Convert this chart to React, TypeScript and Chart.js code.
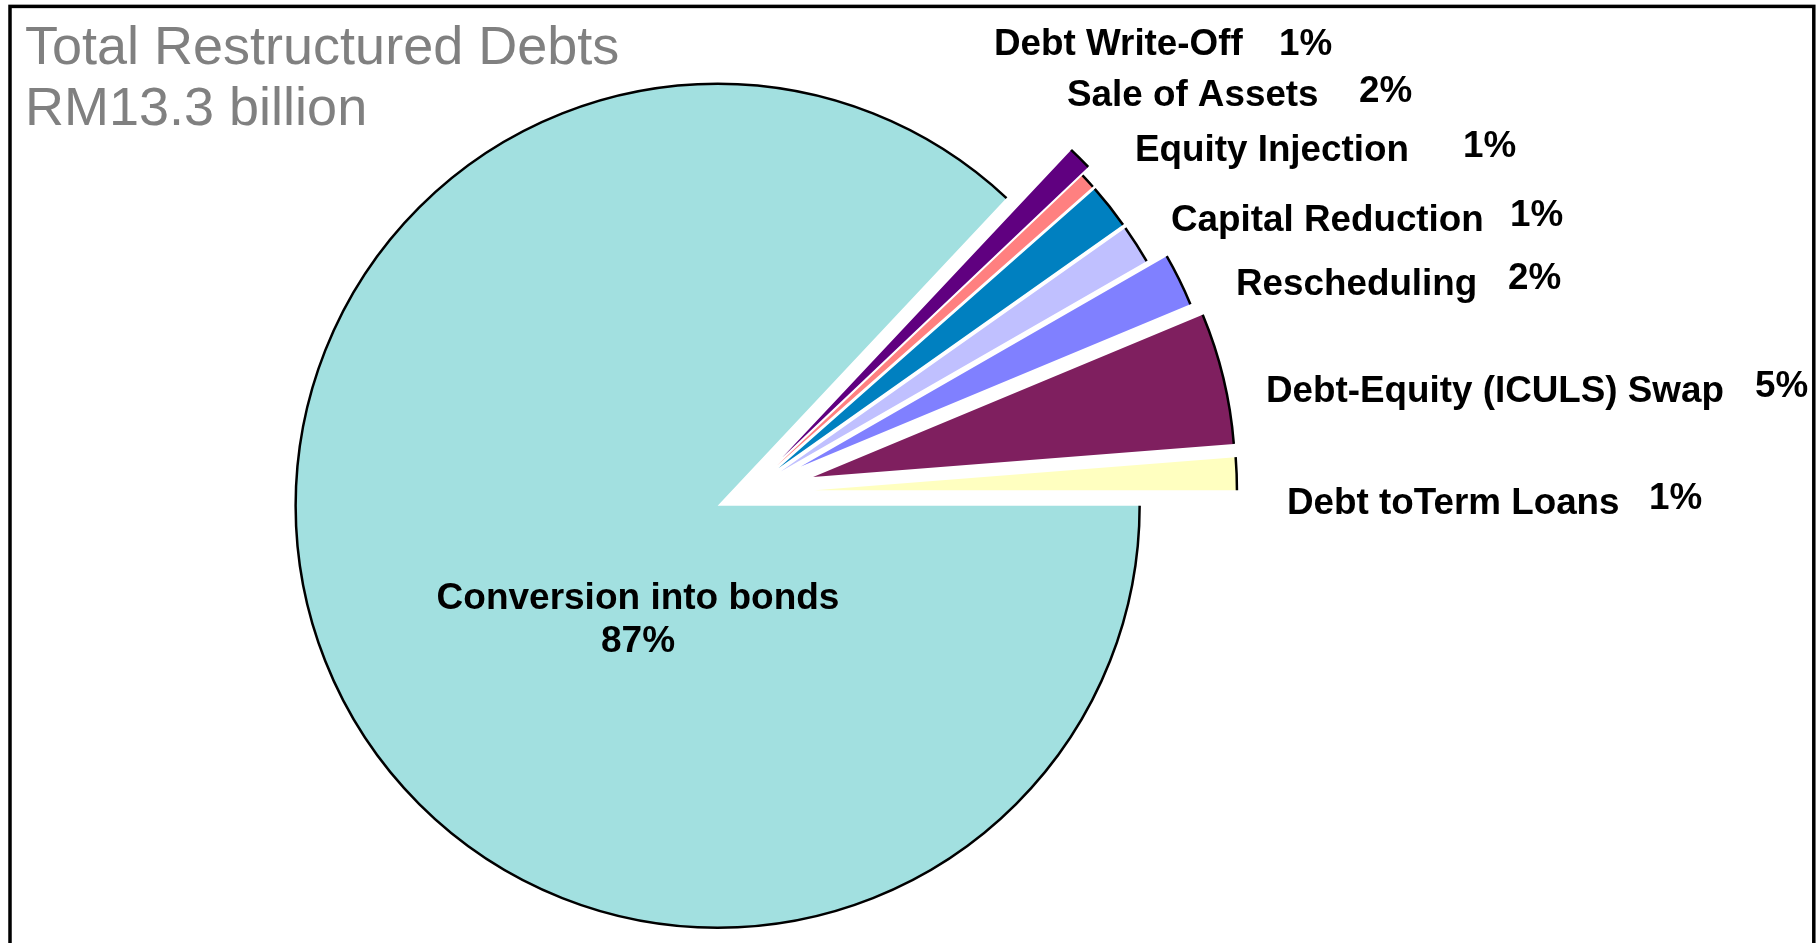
import React, { useEffect, useRef } from "react";
import { Chart, PieController, ArcElement } from "chart.js";

Chart.register(PieController, ArcElement);

// ---- data ----
const categories = [
  "Conversion into bonds",
  "Debt Write-Off",
  "Sale of Assets",
  "Equity Injection",
  "Capital Reduction",
  "Rescheduling",
  "Debt-Equity (ICULS) Swap",
  "Debt toTerm Loans",
];
// slice shares (%) as drawn in the picture
const shares = [87.0, 0.91, 0.58, 1.72, 1.49, 2.02, 5.03, 1.25];
// percentage texts printed on the chart
const percentLabels = ["87%", "1%", "2%", "1%", "1%", "2%", "5%", "1%"];
const titleLines = ["Total Restructured Debts", "RM13.3 billion"];

// ---- styles ----
const colors = ["#A2E0E0", "#600080", "#FF8080", "#0080C0", "#C0C0FF", "#8080FF", "#7F1F5F", "#FFFFC0"];
const explode = [32, 50, 40, 40, 40, 60, 68, 68];
const W = 1818;
const H = 943;
const PIE_RADIUS = 422;
// label layout: name x, name baseline, pct x, pct baseline
const labelLayout: (number[] | null)[] = [
  null,
  [994, 54.5, 1279, 54.5],
  [1067, 105.5, 1359, 102],
  [1135, 161, 1463, 156.5],
  [1171, 230.7, 1510, 226],
  [1236, 294.5, 1508, 288.7],
  [1266, 402.3, 1755, 396.5],
  [1287, 513.6, 1649, 509],
];
const mainLabelPos = [638, 609, 652];

const explodePlugin = {
  id: "explodeSlices",
  afterDatasetUpdate(chart: any, args: any) {
    const meta = chart.getDatasetMeta(args.index);
    meta.data.forEach((el: any, i: number) => {
      const d = explode[i] || 0;
      const half = (el.startAngle + el.endAngle) / 2;
      el.x += Math.cos(half) * d;
      el.y += Math.sin(half) * d;
    });
  },
};

const decorPlugin = {
  id: "decor",
  afterDatasetsDraw(chart: any) {
    const ctx = chart.ctx as CanvasRenderingContext2D;
    const meta = chart.getDatasetMeta(0);
    ctx.save();
    ctx.strokeStyle = "#000";
    ctx.lineWidth = 2.5;
    meta.data.forEach((el: any) => {
      ctx.beginPath();
      ctx.arc(el.x, el.y, el.outerRadius, el.startAngle, el.endAngle);
      ctx.stroke();
    });
    ctx.restore();
  },
  afterDraw(chart: any) {
    const ctx = chart.ctx as CanvasRenderingContext2D;
    ctx.save();
    // frame
    ctx.strokeStyle = "#000";
    ctx.lineWidth = 3.5;
    ctx.strokeRect(10, 6.4, 1803.8, 1000);
    // title
    ctx.fillStyle = "#808080";
    ctx.font = '54px "Liberation Sans", Arial, sans-serif';
    ctx.textAlign = "left";
    ctx.textBaseline = "alphabetic";
    ctx.fillText(titleLines[0], 25, 64);
    ctx.fillText(titleLines[1], 25, 125);
    // labels
    ctx.fillStyle = "#000";
    ctx.font = 'bold 36.8px "Liberation Sans", Arial, sans-serif';
    labelLayout.forEach((pos, i) => {
      if (!pos) return;
      ctx.fillText(categories[i], pos[0], pos[1]);
      ctx.fillText(percentLabels[i], pos[2], pos[3]);
    });
    ctx.font = 'bold 37px "Liberation Sans", Arial, sans-serif';
    ctx.textAlign = "center";
    ctx.fillText(categories[0], mainLabelPos[0], mainLabelPos[1]);
    ctx.fillText(percentLabels[0], mainLabelPos[0], mainLabelPos[2]);
    ctx.restore();
  },
};

export default function App() {
  const ref = useRef<HTMLCanvasElement | null>(null);
  useEffect(() => {
    if (!ref.current) return;
    const chart = new Chart(ref.current, {
      type: "pie",
      data: {
        labels: categories,
        datasets: [
          {
            data: shares,
            backgroundColor: colors,
            borderWidth: 0,
            rotation: 90,
            radius: PIE_RADIUS,
            clip: false,
          } as any,
        ],
      },
      options: {
        animation: false,
        responsive: false,
        maintainAspectRatio: false,
        rotation: 90,
        radius: PIE_RADIUS,
        events: [],
        layout: { padding: { left: 0, right: 324, top: 43, bottom: 0 } },
        plugins: { legend: { display: false }, tooltip: { enabled: false } },
      } as any,
      plugins: [explodePlugin, decorPlugin],
    });
    return () => chart.destroy();
  }, []);
  return (
    <div style={{ position: "absolute", left: 0, top: 0, width: W, height: H, background: "#fff", overflow: "hidden" }}>
      <canvas ref={ref} width={W} height={H} style={{ display: "block", width: W, height: H }} />
    </div>
  );
}
